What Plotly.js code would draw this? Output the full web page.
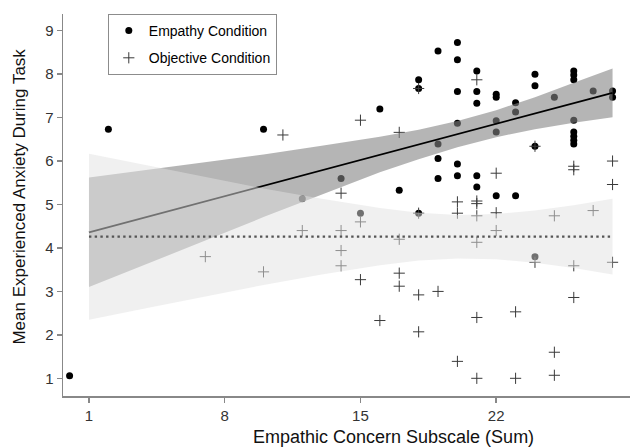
<!DOCTYPE html>
<html>
<head>
<meta charset="utf-8">
<script src="https://cdn.plot.ly/plotly-3.0.1.min.js"></script>
<style>html,body{margin:0;padding:0;background:#fff;}#chart{width:631px;height:448px;}</style>
</head>
<body>
<div id="chart"></div>
<script>
// Empathy condition (filled circles)
const empX = [0,2,10,12,14,15,16,17,18,18,18,19,19,19,19,20,20,20,20,20,20,21,21,21,21,21,22,22,22,22,22,23,23,23,24,24,24,24,25,26,26,26,26,26,26,26,26,27,28,28];
const empY = [1.06,6.73,6.73,5.13,5.6,4.8,7.2,5.33,7.87,7.67,4.8,8.53,6.39,6.06,5.6,8.73,8.33,7.6,6.87,5.93,5.66,8.07,7.6,7.33,5.66,5.4,7.54,7.47,6.93,6.67,5.2,7.34,7.13,5.2,8.0,7.73,6.34,3.8,7.47,8.07,7.98,7.87,6.94,6.67,6.57,6.48,6.39,7.61,7.61,7.47];
// Objective condition (crosses)
const objX = [7,10,11,12,14,14,14,14,15,15,15,16,17,17,17,17,18,18,18,18,19,20,20,20,21,21,21,21,21,21,21,22,22,22,23,23,24,24,25,25,25,26,26,26,26,27,28,28,28];
const objY = [3.8,3.45,6.6,4.4,5.26,4.4,3.94,3.59,6.94,4.6,3.27,2.33,6.66,4.2,3.42,3.12,7.67,4.8,2.92,2.07,3.0,5.06,4.8,1.39,7.87,5.08,5.02,4.74,4.13,2.4,1.0,5.72,4.81,4.4,2.53,1.0,6.34,3.67,4.74,1.6,1.07,5.88,5.8,3.59,2.86,4.86,6.0,5.46,3.67];
// Fitted lines and confidence bands
const fitX = [1, 28];
const empFitY = [4.36, 7.57];
const objFitY = [4.26, 4.26];
const bandX = [1,4,7,10,13,16,18,20,22,24,26,28];
const empUpper = [5.62,5.80,5.97,6.15,6.35,6.56,6.72,6.92,7.17,7.47,7.80,8.13];
const empLower = [3.10,3.64,4.17,4.71,5.23,5.74,6.04,6.32,6.55,6.73,6.88,7.01];
const objUpper = [6.17,5.90,5.63,5.37,5.13,4.92,4.81,4.76,4.78,4.86,4.98,5.13];
const objLower = [2.35,2.62,2.89,3.15,3.39,3.60,3.71,3.76,3.74,3.66,3.54,3.39];
const xTicks = [1, 8, 15, 22];
const yTicks = [1,2,3,4,5,6,7,8,9];

function poly(xs, up, lo) {
  return {x: xs.concat(xs.slice().reverse()), y: up.concat(lo.slice().reverse())};
}
const empPoly = poly(bandX, empUpper, empLower);
const objPoly = poly(bandX, objUpper, objLower);

const traces = [
  {x: empX, y: empY, type: 'scatter', mode: 'markers', name: 'Empathy Condition', legendgroup: 'e',
   marker: {symbol: 'circle', size: 7, color: '#000'}},
  {x: objX, y: objY, type: 'scatter', mode: 'markers', name: 'Objective Condition', legendgroup: 'o',
   marker: {symbol: 'cross-thin-open', size: 8, color: '#3a3a3a', line: {color: '#3a3a3a', width: 1}}},
  {x: empPoly.x, y: empPoly.y, type: 'scatter', mode: 'lines', fill: 'toself',
   fillcolor: 'rgba(131,131,131,0.6)', line: {width: 0}, showlegend: false, hoverinfo: 'skip'},
  {x: fitX, y: empFitY, type: 'scatter', mode: 'lines', line: {color: '#000', width: 1.8}, showlegend: false},
  {x: objPoly.x, y: objPoly.y, type: 'scatter', mode: 'lines', fill: 'toself',
   fillcolor: 'rgba(225,225,225,0.5)', line: {width: 0}, showlegend: false, hoverinfo: 'skip'},
  {x: fitX, y: objFitY, type: 'scatter', mode: 'lines', line: {color: '#555', width: 2.2, dash: '2.4px,3.3px'}, showlegend: false}
];

const layout = {
  width: 631, height: 448,
  margin: {l: 63, r: 1, t: 14, b: 52},
  paper_bgcolor: '#fff', plot_bgcolor: '#fff',
  font: {family: '"Liberation Sans", Arial, sans-serif', color: '#333'},
  showlegend: true,
  legend: {x: 0.079, y: 1.0, xanchor: 'left', yanchor: 'top', bgcolor: '#fff',
           bordercolor: '#8c8c8c', borderwidth: 1, font: {size: 14, color: '#000'},
           tracegroupgap: 6, traceorder: 'grouped'},
  xaxis: {range: [-0.34, 28.9], tickvals: xTicks, ticktext: xTicks.map(String),
          showgrid: false, zeroline: false, showline: true, linecolor: '#888', linewidth: 1.5,
          ticks: 'outside', ticklen: 5, tickcolor: '#888', tickwidth: 1.5,
          tickfont: {size: 15, color: '#333'}},
  yaxis: {range: [0.593, 9.384], tickvals: yTicks, ticktext: yTicks.map(String),
          showgrid: false, zeroline: false, showline: true, linecolor: '#888', linewidth: 1.5,
          ticks: 'outside', ticklen: 5, tickcolor: '#888', tickwidth: 1.5,
          tickfont: {size: 15, color: '#333'}},
  annotations: [
    {text: 'Empathic Concern Subscale (Sum)', xref: 'paper', yref: 'paper',
     x: 0.331, y: -0.108, xanchor: 'left', yanchor: 'middle', showarrow: false,
     font: {size: 18, color: '#111'}},
    {text: 'Mean Experienced Anxiety During Task', xref: 'paper', yref: 'paper',
     x: -0.0758, y: 0.522, xanchor: 'center', yanchor: 'middle', textangle: -90, showarrow: false,
     font: {size: 17, color: '#111'}}
  ]
};
Plotly.newPlot('chart', traces, layout, {displayModeBar: false, staticPlot: true});
</script>
</body>
</html>
